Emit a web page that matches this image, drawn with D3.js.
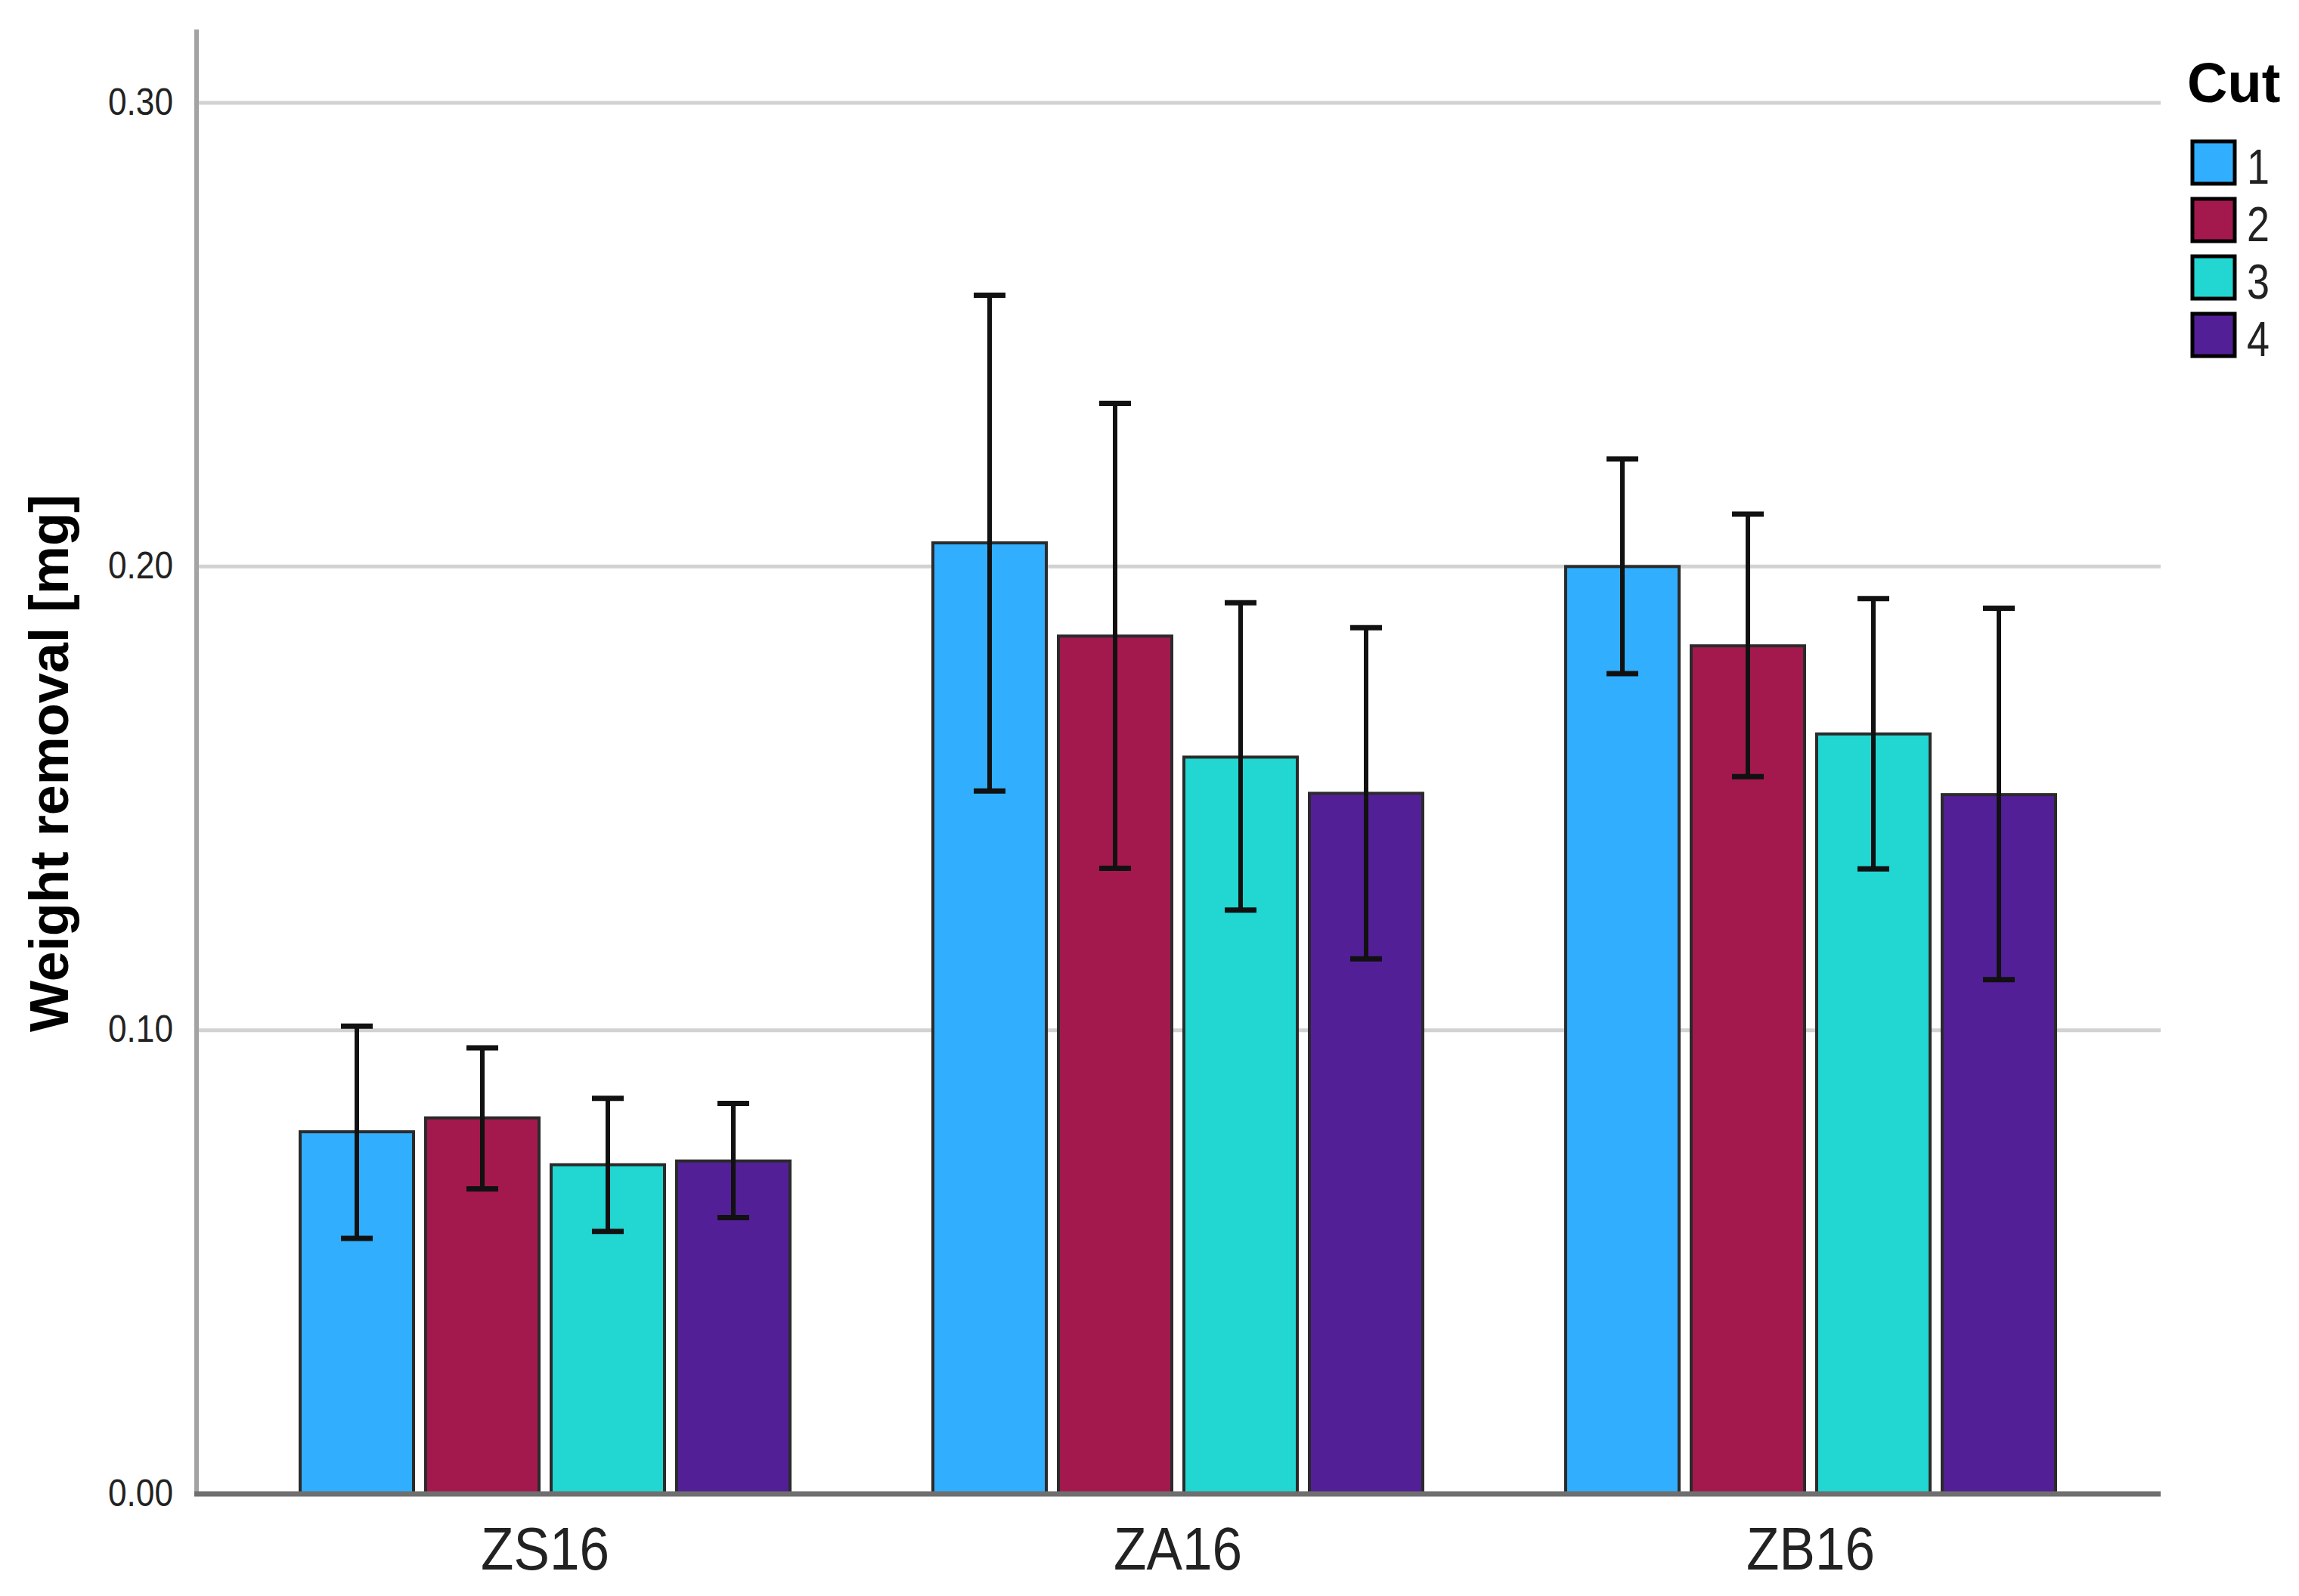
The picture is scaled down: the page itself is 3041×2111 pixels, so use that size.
<!DOCTYPE html>
<html>
<head>
<meta charset="utf-8">
<script src="https://cdn.jsdelivr.net/npm/d3@7"></script>
<style>
  html, body { margin: 0; padding: 0; background: #ffffff; }
  svg { display: block; }
</style>
</head>
<body>
<svg id="chart" width="3041" height="2111"></svg>
<script>
// ---- data ----
const categories = ["ZS16", "ZA16", "ZB16"];
const cuts = ["1", "2", "3", "4"];
const means = {
  ZS16: [0.0781, 0.0811, 0.0710, 0.0718],
  ZA16: [0.2051, 0.1850, 0.1589, 0.1511],
  ZB16: [0.2000, 0.1829, 0.1639, 0.1508]
};
const upper = {
  ZS16: [0.1009, 0.0962, 0.0853, 0.0842],
  ZA16: [0.2585, 0.2352, 0.1922, 0.1868],
  ZB16: [0.2232, 0.2113, 0.1931, 0.1910]
};
const lower = {
  ZS16: [0.0551, 0.0658, 0.0566, 0.0596],
  ZA16: [0.1516, 0.1349, 0.1259, 0.1154],
  ZB16: [0.1769, 0.1547, 0.1348, 0.1109]
};
const yTicks = [0.00, 0.10, 0.20, 0.30];
const colors = ["#31AFFE", "#A3194E", "#22D6D2", "#521F96"];
const yTitle = "Weight removal [mg]";
const legendTitle = "Cut";

// ---- layout ----
const axisX = 260, plotRight = 2858, axisTop = 39;
const svg = d3.select("#chart");
const narrow = "'Liberation Sans Narrow', 'Arial Narrow', 'Liberation Sans', Arial, sans-serif";
const sans = "'Liberation Sans', Arial, sans-serif";

const y = d3.scaleLinear().domain([0, 0.30]).range([1976, 136]);
const x0 = d3.scaleBand().domain(categories).range([302.5, 2813.5]).padding(0);
const groupW = 648;
const x1 = d3.scaleBand().domain(cuts).range([0, groupW]).paddingInner(0.0964).paddingOuter(0);
const color = d3.scaleOrdinal().domain(cuts).range(colors);

// gridlines
svg.append("g").selectAll("line")
  .data(yTicks.filter(d => d > 0))
  .join("line")
  .attr("x1", axisX).attr("x2", plotRight)
  .attr("y1", d => y(d)).attr("y2", d => y(d))
  .attr("stroke", "#d2d2d2").attr("stroke-width", 5);

// y axis line
svg.append("line")
  .attr("x1", axisX).attr("x2", axisX)
  .attr("y1", axisTop).attr("y2", y(0))
  .attr("stroke", "#a3a3a3").attr("stroke-width", 6);

// y tick labels
const yAxis = d3.axisLeft(y).tickValues(yTicks).tickFormat(d3.format(".2f")).tickSize(0).tickPadding(0);
const yg = svg.append("g").attr("transform", `translate(229,0)`).call(yAxis);
yg.select(".domain").remove();
yg.selectAll("text")
  .attr("font-family", narrow).attr("font-size", 50).attr("fill", "#222")
  .attr("dy", "0.3em").attr("x", 0)
  .attr("textLength", 86).attr("lengthAdjust", "spacingAndGlyphs");

// bars
const groups = svg.append("g").selectAll("g")
  .data(categories)
  .join("g")
  .attr("transform", c => `translate(${x0(c) + x0.bandwidth() / 2 - groupW / 2},0)`);

groups.selectAll("rect")
  .data(c => cuts.map((k, i) => ({ c, k, v: means[c][i] })))
  .join("rect")
  .attr("x", d => x1(d.k))
  .attr("y", d => y(d.v))
  .attr("width", x1.bandwidth())
  .attr("height", d => y(0) - y(d.v))
  .attr("fill", d => color(d.k))
  .attr("stroke", "#2b2b2b").attr("stroke-width", 4);

// x axis line
svg.append("line")
  .attr("x1", axisX - 3).attr("x2", plotRight)
  .attr("y1", y(0)).attr("y2", y(0))
  .attr("stroke", "#6f6f6f").attr("stroke-width", 7);

// error bars
const eb = groups.selectAll("g.err")
  .data(c => cuts.map((k, i) => ({ c, k, lo: lower[c][i], hi: upper[c][i] })))
  .join("g").attr("class", "err")
  .attr("transform", d => `translate(${x1(d.k) + x1.bandwidth() / 2},0)`);
const capW = 42;
eb.append("line").attr("x1", 0).attr("x2", 0)
  .attr("y1", d => y(d.hi)).attr("y2", d => y(d.lo))
  .attr("stroke", "#111").attr("stroke-width", 6);
eb.append("line").attr("x1", -capW / 2).attr("x2", capW / 2)
  .attr("y1", d => y(d.hi)).attr("y2", d => y(d.hi))
  .attr("stroke", "#111").attr("stroke-width", 7);
eb.append("line").attr("x1", -capW / 2).attr("x2", capW / 2)
  .attr("y1", d => y(d.lo)).attr("y2", d => y(d.lo))
  .attr("stroke", "#111").attr("stroke-width", 7);

// x category labels
const xAxis = d3.axisBottom(x0).tickSize(0).tickPadding(0);
const xg = svg.append("g").attr("transform", `translate(0,2076)`).call(xAxis);
xg.select(".domain").remove();
xg.selectAll("text")
  .attr("font-family", narrow).attr("font-size", 80).attr("fill", "#222")
  .attr("y", 0).attr("dy", 0)
  .attr("textLength", 170).attr("lengthAdjust", "spacingAndGlyphs");

// y title
svg.append("text")
  .attr("transform", `translate(90,${(axisTop + y(0)) / 2 + 2}) rotate(-90)`)
  .attr("text-anchor", "middle")
  .attr("font-family", sans).attr("font-weight", "bold").attr("font-size", 72)
  .attr("fill", "#000")
  .text(yTitle);

// legend
const lg = svg.append("g");
lg.append("text")
  .attr("x", 2893).attr("y", 135)
  .attr("font-family", sans).attr("font-weight", "bold").attr("font-size", 74)
  .attr("fill", "#000").text(legendTitle);
const items = lg.selectAll("g.item").data(cuts).join("g").attr("class", "item")
  .attr("transform", (d, i) => `translate(2900,${187 + i * 76})`);
items.append("rect")
  .attr("width", 56).attr("height", 56)
  .attr("fill", d => color(d))
  .attr("stroke", "#000").attr("stroke-width", 5);
items.append("text")
  .attr("x", 72).attr("y", 56)
  .attr("font-family", narrow).attr("font-size", 64).attr("fill", "#222")
  .attr("textLength", 30).attr("lengthAdjust", "spacingAndGlyphs")
  .text(d => d);
</script>
</body>
</html>
